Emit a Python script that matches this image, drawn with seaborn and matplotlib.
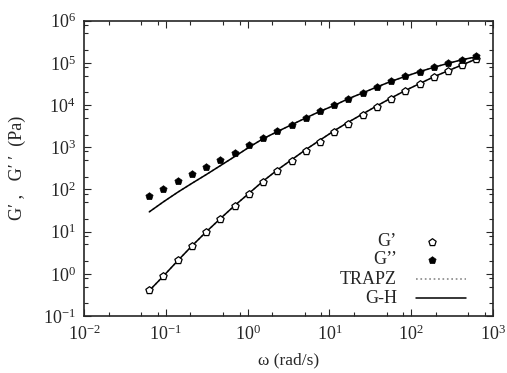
"""Storage and loss moduli vs angular frequency, with TRAPZ and G-H fits."""
import numpy as np
import pandas as pd
import matplotlib
matplotlib.use('Agg')
import matplotlib.pyplot as plt
import matplotlib.ticker as mticker
import seaborn as sns

# angular frequency (rad/s)
omega = [0.0628, 0.0937, 0.140, 0.209, 0.312, 0.466, 0.695, 1.04, 1.55, 2.31,
         3.45, 5.14, 7.68, 11.5, 17.1, 25.5, 38.1, 56.9, 84.9, 127,
         189, 282, 421, 628]

# measured moduli (Pa)
g_storage = [0.41, 0.90, 2.07, 4.6, 9.9, 20.1, 40.9, 78.7, 151, 270,
             466, 804, 1343, 2265, 3645, 5730, 9200, 14250, 21700, 31800,
             46600, 64600, 89700, 124000]
g_loss = [70.5, 105, 157, 238, 349, 502, 748, 1115, 1670, 2390,
          3450, 4980, 7130, 9890, 14250, 19450, 27000, 36600, 48200, 62300,
          78700, 98000, 119700, 143300]

# fitted curves (TRAPZ and G-H overlap)
fit_storage = [0.40, 0.89, 2.05, 4.6, 9.9, 20.5, 41.5, 81, 158, 290,
               505, 880, 1480, 2480, 3950, 6150, 9600, 14700, 22200, 32300,
               46800, 65000, 90000, 124000]
fit_loss = [29.4, 51, 86, 140, 225, 368, 602, 1000, 1600, 2350,
            3420, 4950, 7100, 9850, 14200, 19400, 26900, 36500, 48000, 62000,
            78500, 97500, 119000, 140000]

legend_labels = ['G’', 'G’’', 'TRAPZ', 'G-H']

sns.set_style('ticks')
plt.rcParams['font.family'] = ['Liberation Serif', 'DejaVu Serif']
plt.rcParams['mathtext.fontset'] = 'custom'
plt.rcParams['mathtext.rm'] = 'Liberation Serif'
plt.rcParams['mathtext.it'] = 'Liberation Serif:italic'

df = pd.DataFrame({'omega': omega, 'gp': g_storage, 'gpp': g_loss,
                   'fit_gp': fit_storage, 'fit_gpp': fit_loss})

fig = plt.figure(figsize=(5.07, 3.73), dpi=100)
ax = fig.add_axes([0.1657, 0.1528, 0.8067, 0.7917])

# fits: TRAPZ dotted grey underneath, G-H solid black on top
trapz_style = dict(color='#888888', linestyle=':', lw=1.2)
gh_style = dict(color='black', lw=1.1)
sns.lineplot(x='omega', y='fit_gp', data=df, ax=ax, **trapz_style)
sns.lineplot(x='omega', y='fit_gpp', data=df, ax=ax, **trapz_style)
sns.lineplot(x='omega', y='fit_gp', data=df, ax=ax, **gh_style)
sns.lineplot(x='omega', y='fit_gpp', data=df, ax=ax, **gh_style)

gp_style = dict(marker='p', s=30, facecolor='white', edgecolor='black', linewidth=0.9)
gpp_style = dict(marker='p', s=30, color='black', edgecolor='black', linewidth=0.5)
sns.scatterplot(x='omega', y='gp', data=df, ax=ax, zorder=3, **gp_style)
sns.scatterplot(x='omega', y='gpp', data=df, ax=ax, zorder=3, **gpp_style)

ax.set_xscale('log')
ax.set_yscale('log')
ax.set_xlim(1e-2, 1e3)
ax.set_ylim(1e-1, 1e6)

for axis in (ax.xaxis, ax.yaxis):
    axis.set_major_locator(mticker.LogLocator(base=10, numticks=12))
    axis.set_minor_locator(mticker.LogLocator(base=10, subs=(2, 5, 8), numticks=12))
    axis.set_minor_formatter(mticker.NullFormatter())
ax.tick_params(which='both', direction='in', top=True, right=True,
               labelsize=13, width=0.8, pad=6)
ax.tick_params(which='major', length=5)
ax.tick_params(which='minor', length=3)
for sp in ax.spines.values():
    sp.set_linewidth(1.2)

ax.set_xlabel('ω (rad/s)', fontsize=12.5, labelpad=6)
ax.set_ylabel('G′ ,   G′ ′  (Pa)', fontsize=13, labelpad=12)

# gnuplot-style key: right-aligned labels with the sample to the right
rows = [0.252, 0.190, 0.125, 0.060]
for lbl, yy in zip(legend_labels, rows):
    ax.text(0.765, yy, lbl, transform=ax.transAxes, ha='right', va='center',
            fontsize=13)
ax.scatter([0.851], [rows[0]], transform=ax.transAxes, zorder=4, **gp_style)
ax.scatter([0.851], [rows[1]], transform=ax.transAxes, zorder=4, **gpp_style)
ax.plot([0.812, 0.934], [rows[2], rows[2]], transform=ax.transAxes, **trapz_style)
ax.plot([0.812, 0.934], [rows[3], rows[3]], transform=ax.transAxes, **gh_style)

fig.savefig('out.png', dpi=100)
